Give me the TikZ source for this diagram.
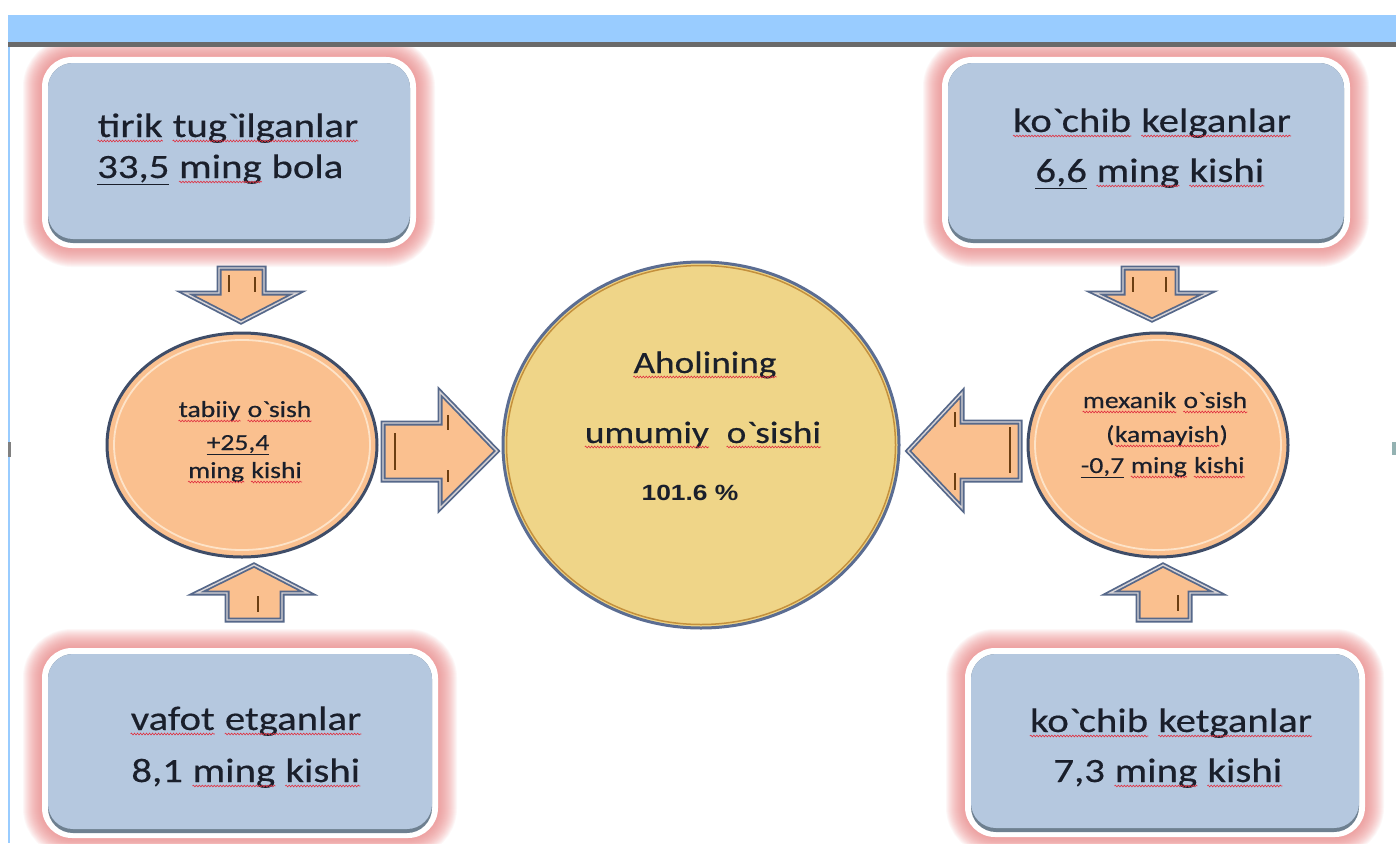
\documentclass[tikz,border=0pt]{standalone}
\usepackage{fontspec}
\setmainfont{Carlito}[FakeStretch=1.2, FakeBold=0.4]
\newfontfamily\arialf{Liberation Sans}[FakeStretch=1.2]
\usetikzlibrary{shapes.geometric,fit,decorations.pathmorphing}
\definecolor{bandc}{HTML}{99CCFF}
\definecolor{bandline}{HTML}{6A6A6A}
\definecolor{glowc}{HTML}{EE8888}
\definecolor{boxfill}{HTML}{B5C8DF}
\definecolor{boxdark}{HTML}{6E8090}
\definecolor{ellfill}{HTML}{FAC08F}
\definecolor{ellout}{HTML}{3F4D68}
\definecolor{ellring}{HTML}{FDE3C8}
\definecolor{circfill}{HTML}{EFD588}
\definecolor{circout}{HTML}{5B6D92}
\definecolor{circring}{HTML}{C4903C}
\definecolor{arrout}{HTML}{56688A}
\definecolor{arrlight}{HTML}{D8D4D6}
\definecolor{tickc}{HTML}{6B3E12}
\definecolor{txtc}{HTML}{1A1F2B}
\definecolor{sqc}{HTML}{E03040}
\newcommand\gr{\textasciigrave}
\newcommand\sq[1]{\tikz[baseline=(w.base)]{\node[inner sep=0pt] (w) {#1};
  \draw[sqc, line width=0.6pt, decorate, decoration={snake, amplitude=0.9pt, segment length=3pt}] ([yshift=-4pt]w.base west) -- ([yshift=-4pt]w.base east);}}
\newcommand\gbox[5]{%
  \foreach \w in {2,4,...,38}{
    \draw[glowc, line width=\w pt, draw opacity=.065, rounded corners=30pt] (#2,#3) rectangle (#4,#5);}
  \fill[white, rounded corners=30pt] (#2,#3) rectangle (#4,#5);
  \fill[boxdark, rounded corners=25pt] (#2+6,#3+6) rectangle (#4-6,#5-5);
  \fill[boxfill, rounded corners=25pt] (#2+6,#3+6) rectangle (#4-6,#5-9);
  \node[inner sep=0pt, fit={(#2,#3) (#4,#5)}] (#1) {};
}
\begin{document}
\begin{tikzpicture}[x=1pt,y=-1pt,
  boxtxt/.style={text=txtc, font=\fontsize{34}{40}\selectfont, inner sep=0pt},
  ctxt/.style={text=txtc, font=\fontsize{31}{37}\selectfont, inner sep=0pt},
  etxt/.style={text=txtc, font=\fontsize{23}{28}\selectfont, inner sep=0pt},
  ell/.style={ellipse, fill=ellfill, draw=ellout, line width=3pt, inner sep=0pt},
  arst/.style={fill=ellfill, draw=arrout, line width=1.8pt, double=arrlight, double distance=1.4pt, line join=miter},
  tick/.style={draw=tickc, line width=1.6pt}]
\useasboundingbox (0,0) rectangle (1396,843);
\fill[white] (0,0) rectangle (1396,843);

% boxes with glow
\gbox{tl}{42}{57}{416}{248}
\gbox{tr}{942}{57}{1350}{248}
\gbox{bl}{42}{648}{438}{838}
\gbox{br}{965}{648}{1365}{837}

% top band and left border
\fill[bandc] (8,15) rectangle (1396,42);
\fill[bandline] (8,42) rectangle (1396,47);
\draw[bandc, line width=1.5pt] (8.75,47) -- (8.75,843);
\fill[gray] (8,442) rectangle (11,457);
\fill[gray!60!teal!60] (1392,442) rectangle (1396,455);

% block arrows
\draw[arst] (219,268) -- (264,268) -- (264,293) -- (297,293) -- (241,322) -- (185,293) -- (219,293) -- cycle;
\draw[tick] (229,275) -- (229,292) (255,277) -- (255,292);
\draw[arst] (1123,268) -- (1177,268) -- (1177,293) -- (1208,293) -- (1152,320) -- (1095,293) -- (1123,293) -- cycle;
\draw[tick] (1133,277) -- (1133,292) (1166,277) -- (1166,292);
\draw[arst] (254,565) -- (308,593) -- (282,593) -- (282,620) -- (227,620) -- (227,593) -- (197,593) -- cycle;
\draw[tick] (258,596) -- (258,612);
\draw[arst] (1163,565) -- (1218,593) -- (1190,593) -- (1190,620) -- (1138,620) -- (1138,593) -- (1110,593) -- cycle;
\draw[tick] (1178,595) -- (1178,611);
\draw[arst] (383,423) -- (440,423) -- (440,392) -- (497,451) -- (440,508) -- (440,480) -- (383,480) -- cycle;
\draw[tick] (395,433) -- (395,470) (448,415) -- (448,430) (448,470) -- (448,482);
\draw[arst] (1020,422) -- (962,422) -- (962,393) -- (908,451) -- (962,508) -- (962,480) -- (1020,480) -- cycle;
\draw[tick] (1010,427) -- (1010,473) (955,412) -- (955,427) (955,473) -- (955,490);

% ellipses and circle
\node[ell, minimum width=270pt, minimum height=224pt] (lell) at (242,445) {};
\draw[ellring, line width=1.8pt] (lell.center) ellipse [x radius=128pt, y radius=105pt];
\node[ell, minimum width=260pt, minimum height=224pt] (rell) at (1158,445) {};
\draw[ellring, line width=1.8pt] (rell.center) ellipse [x radius=123pt, y radius=105pt];
\node[ellipse, fill=circfill, draw=circout, line width=3pt, inner sep=0pt, minimum width=396pt, minimum height=366pt] (cen) at (701,445) {};
\draw[circring, line width=1.5pt] (cen.center) ellipse [x radius=194.5pt, y radius=179.5pt];

% box texts
\node[boxtxt, anchor=base west] (tl1) at (97,137) {\sq{tirik} \sq{tug\gr ilganlar}};
\node[boxtxt, anchor=base west] (tl2) at (97,178) {\underline{33,5} \sq{ming} bola};
\node[boxtxt, anchor=base] (tr1) at (1152,132) {\sq{ko\gr chib} \sq{kelganlar}};
\node[boxtxt, anchor=base] (tr2) at (1150,182) {\underline{6,6} \sq{ming} \sq{kishi}};
\node[boxtxt, anchor=base] (bl1) at (246,730) {\sq{vafot} \sq{etganlar}};
\node[boxtxt, anchor=base] (bl2) at (246,782) {8,1 \sq{ming} \sq{kishi}};
\node[boxtxt, anchor=base] (br1) at (1171,732) {\sq{ko\gr chib} \sq{ketganlar}};
\node[boxtxt, anchor=base] (br2) at (1168,782) {7,3 \sq{ming} \sq{kishi}};

% ellipse texts
\node[etxt, anchor=base] (le1) at (245,417) {\sq{tabiiy} \sq{o\gr sish}};
\node[etxt, anchor=base] (le2) at (238,450) {\underline{+25,4}};
\node[etxt, anchor=base] (le3) at (245,478) {\sq{ming} \sq{kishi}};
\node[etxt, anchor=base] (re1) at (1165,408) {\sq{mexanik} \sq{o\gr sish}};
\node[etxt, anchor=base] (re2) at (1167,442) {(\sq{kamayish})};
\node[etxt, anchor=base] (re3) at (1163,473) {\underline{-0,7} \sq{ming} \sq{kishi}};

% centre texts
\node[ctxt, anchor=base] (c1) at (705,373) {\sq{Aholining}};
\node[ctxt, anchor=base] (c2) at (703,443) {\sq{umumiy}\ \ \sq{o\gr sishi}};
\node[text=txtc, inner sep=0pt, anchor=base, font=\arialf\bfseries\fontsize{22}{26}\selectfont] (c3) at (690,500) {101.6 \%};
\end{tikzpicture}
\end{document}
